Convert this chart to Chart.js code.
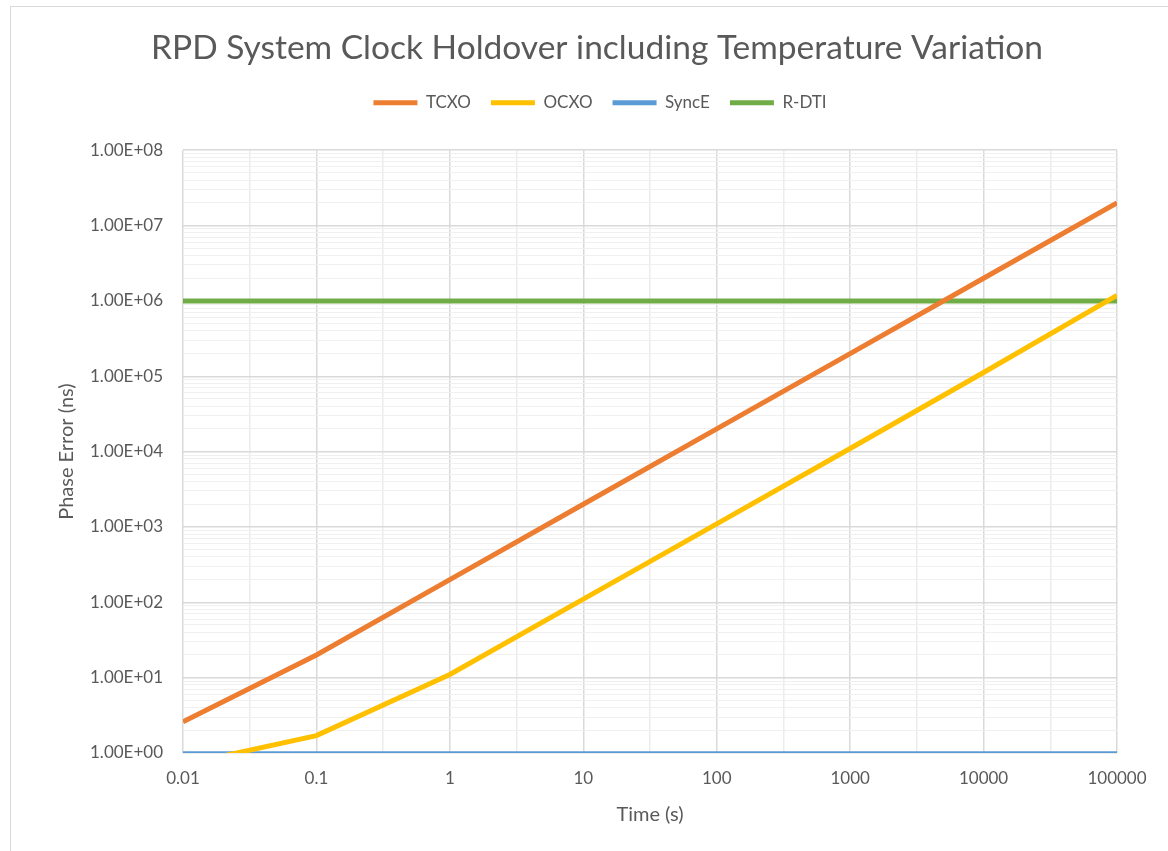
<!DOCTYPE html>
<html>
<head>
<meta charset="utf-8">
<script src="https://cdn.jsdelivr.net/npm/chart.js@4.4.1/dist/chart.umd.min.js"></script>
<style>
  html, body { margin: 0; padding: 0; background: #fff; overflow: hidden; }
  #frame { position: absolute; left: 10px; top: 6px; width: 1200px; height: 900px;
           border-left: 1px solid #d9d9d9; border-top: 1px solid #d9d9d9; }
  #wrap { position: absolute; left: 0; top: 0; width: 1168px; height: 851px; }
</style>
</head>
<body>
<div id="frame"></div>
<div id="wrap"><canvas id="holdoverChart" width="1168" height="851"></canvas></div>
<script>
// 数据
const times = [0.01, 0.1, 1, 10, 100, 1000, 10000, 100000];
const tcxo = [2.6, 20, 200, 2000, 20000, 200000, 2000000, 20000000];
const ocxo = [0.7, 1.7, 11, 110, 1100, 11000, 112000, 1180000];
const syncE = [1, 1, 1, 1, 1, 1, 1, 1];
const rdti = [1000000, 1000000, 1000000, 1000000, 1000000, 1000000, 1000000, 1000000];

const xTickValues = [0.01, 0.0316, 0.1, 0.316, 1, 3.16, 10, 31.6, 100, 316, 1000, 3162, 10000, 31623, 100000];
const xTickLabels = ['0.01', '', '0.1', '', '1', '', '10', '', '100', '', '1000', '', '10000', '', '100000'];
const yDecades = [1, 10, 100, 1000, 10000, 100000, 1000000, 10000000, 100000000];
const yDecadeLabels = ['1.00E+00', '1.00E+01', '1.00E+02', '1.00E+03', '1.00E+04', '1.00E+05', '1.00E+06', '1.00E+07', '1.00E+08'];

const FONT = 'Lato, "Open Sans", sans-serif';
const TEXT = '#595959';

function points(values) {
    return times.map((t, i) => ({ x: t, y: values[i] }));
}

// y轴刻度: 每个数量级加上 2..9 的次刻度
const yTicks = [];
yDecades.forEach((d, i) => {
    yTicks.push({ value: d, label: yDecadeLabels[i], major: true });
    if (i < yDecades.length - 1) {
        for (let m = 2; m <= 9; m++) yTicks.push({ value: d * m, label: '', major: false });
    }
});

// 图例下方留出空白, 标题和图例稍微右移
const legendGap = {
    id: 'legendGap',
    beforeInit(chart) {
        const fit = chart.legend.fit;
        chart.legend.fit = function() {
            fit.bind(chart.legend)();
            this.height += 29;
        };
    },
    afterLayout(chart) {
        if (chart.titleBlock) {
            chart.titleBlock.left += 13;
            chart.titleBlock.right += 13;
        }
        chart.legend.left += 16;
        chart.legend.right += 16;
    }
};

const ctx = document.getElementById('holdoverChart').getContext('2d');
new Chart(ctx, {
    type: 'line',
    plugins: [legendGap],
    data: {
        datasets: [{
            label: 'TCXO',
            data: points(tcxo),
            borderColor: '#ED7D31',
            backgroundColor: '#ED7D31',
            borderWidth: 5
        }, {
            label: 'OCXO',
            data: points(ocxo),
            borderColor: '#FFC000',
            backgroundColor: '#FFC000',
            borderWidth: 5,
            clip: 0
        }, {
            label: 'SyncE',
            data: points(syncE),
            borderColor: '#5B9BD5',
            backgroundColor: '#5B9BD5',
            borderWidth: 3.5
        }, {
            label: 'R-DTI',
            data: points(rdti),
            borderColor: '#70AD47',
            backgroundColor: '#70AD47',
            borderWidth: 5
        }]
    },
    options: {
        responsive: false,
        animation: false,
        maintainAspectRatio: false,
        elements: { point: { radius: 0 }, line: { tension: 0, borderCapStyle: 'butt' } },
        layout: { padding: { left: 51, right: 51, top: 28, bottom: 20 } },
        plugins: {
            title: {
                display: true,
                text: 'RPD System Clock Holdover including Temperature Variation',
                color: TEXT,
                font: { family: FONT, size: 33.5, weight: 'normal' },
                padding: { top: 0, bottom: 6 }
            },
            legend: {
                display: true,
                labels: {
                    color: TEXT,
                    font: { family: FONT, size: 17 },
                    boxWidth: 44,
                    boxHeight: 5,
                    padding: 20,
                    generateLabels: chart => chart.data.datasets.map((ds, i) => ({
                        text: ds.label,
                        fillStyle: ds.borderColor,
                        strokeStyle: ds.borderColor,
                        lineWidth: 0,
                        datasetIndex: i,
                        fontColor: TEXT
                    }))
                }
            },
            tooltip: { enabled: false }
        },
        scales: {
            x: {
                type: 'logarithmic',
                min: 0.01,
                max: 100000,
                afterBuildTicks: scale => {
                    scale.ticks = xTickValues.map((v, i) => ({ value: v, label: xTickLabels[i], major: xTickLabels[i] !== '' }));
                },
                afterFit: scale => { scale.height = 78; },
                ticks: {
                    autoSkip: false,
                    maxRotation: 0,
                    color: TEXT,
                    font: { family: FONT, size: 17 },
                    padding: 15,
                    callback: function(value, index) { return xTickLabels[index]; }
                },
                grid: {
                    color: c => (c.tick && c.tick.major) ? '#d9d9d9' : '#ececec',
                    lineWidth: 1.5,
                    drawTicks: false
                },
                border: { display: false },
                title: {
                    display: true,
                    text: 'Time (s)',
                    color: TEXT,
                    font: { family: FONT, size: 20 },
                    padding: { top: 12, bottom: 4 }
                }
            },
            y: {
                type: 'logarithmic',
                min: 1,
                max: 100000000,
                afterBuildTicks: scale => {
                    scale.ticks = yTicks.map(t => ({ value: t.value, label: t.label, major: t.major }));
                },
                afterFit: scale => { scale.width = 132; },
                ticks: {
                    autoSkip: false,
                    color: TEXT,
                    font: { family: FONT, size: 17 },
                    padding: 20,
                    callback: function(value, index) { return yTicks[index].label; }
                },
                grid: {
                    color: c => (c.tick && c.tick.major) ? '#d9d9d9' : '#f0f0f0',
                    lineWidth: c => (c.tick && c.tick.major) ? 1.5 : 1,
                    drawTicks: false
                },
                border: { display: false },
                title: {
                    display: true,
                    text: 'Phase Error (ns)',
                    color: TEXT,
                    font: { family: FONT, size: 20 },
                    padding: { bottom: 12 }
                }
            }
        }
    }
});
</script>
</body>
</html>
